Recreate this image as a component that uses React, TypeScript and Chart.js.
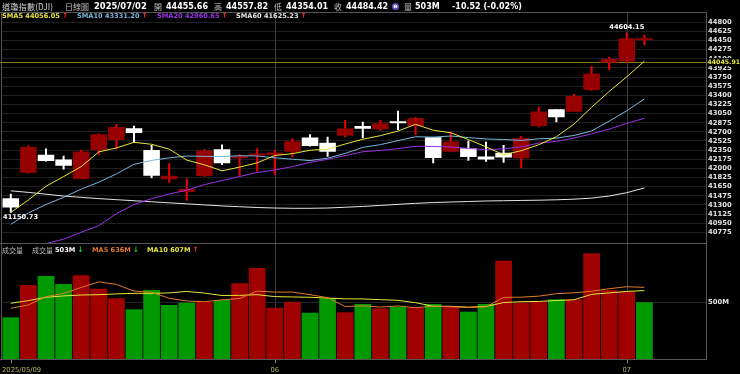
import React, { useEffect, useRef } from 'react';
import { Chart, registerables } from 'chart.js';

Chart.register(...registerables);

// ---------- data ----------
const dates = [
  '2025/05/09', '2025/05/12', '2025/05/13', '2025/05/14', '2025/05/15', '2025/05/16',
  '2025/05/19', '2025/05/20', '2025/05/21', '2025/05/22', '2025/05/23',
  '2025/05/27', '2025/05/28', '2025/05/29', '2025/05/30',
  '2025/06/02', '2025/06/03', '2025/06/04', '2025/06/05', '2025/06/06',
  '2025/06/09', '2025/06/10', '2025/06/11', '2025/06/12', '2025/06/13',
  '2025/06/16', '2025/06/17', '2025/06/18', '2025/06/20',
  '2025/06/23', '2025/06/24', '2025/06/25', '2025/06/26', '2025/06/27',
  '2025/06/30', '2025/07/01', '2025/07/02',
];
const emptySlots = ['', ' ', '  '];

const openP = [41426, 41918, 42260, 42170, 41795, 42352, 42545, 42770, 42350, 41790, 41545, 41855, 42365, 42195, 42245, 42255, 42320, 42590, 42492, 42627, 42812, 42749, 42895, 42812, 42596, 42320, 42385, 42230, 42300, 42194, 42812, 43132, 43087, 43502, 44026, 44049, 44455.66];
const highP = [41515, 42444, 42380, 42240, 42355, 42670, 42850, 42815, 42450, 42100, 41810, 42370, 42460, 42270, 42385, 42350, 42577, 42653, 42607, 42927, 42895, 42927, 43105, 42990, 42600, 42703, 42531, 42512, 42448, 42620, 43180, 43135, 43426, 43962, 44141, 44604.15, 44557.82];
const lowP = [41150.73, 41900, 42130, 41980, 41790, 42257, 42360, 42490, 41810, 41725, 41380, 41840, 42065, 41860, 41940, 41880, 42212, 42420, 42224, 42596, 42577, 42722, 42736, 42640, 42097, 42310, 42147, 42129, 42109, 42002, 42790, 42883, 43080, 43490, 43886, 44013, 44354.01];
const closeP = [41249.38, 42410.10, 42140.43, 42051.06, 42322.75, 42654.74, 42792.07, 42677.24, 41860.44, 41859.09, 41603.07, 42343.65, 42098.70, 42215.73, 42270.07, 42305.48, 42519.64, 42427.74, 42319.74, 42762.87, 42761.76, 42866.87, 42865.77, 42967.62, 42197.79, 42515.09, 42215.80, 42171.66, 42206.82, 42581.78, 43089.02, 42982.43, 43386.84, 43819.27, 44094.77, 44494.94, 44484.42];
const prevClose = 41368.45;

const sma5 = [41155.93, 41394.18, 41656.47, 41843.88, 42034.74, 42315.82, 42392.21, 42499.57, 42461.45, 42368.72, 42158.38, 42068.70, 41952.99, 42024.05, 42106.24, 42246.73, 42281.92, 42347.73, 42368.53, 42467.09, 42558.35, 42627.80, 42715.40, 42844.98, 42731.96, 42682.63, 42552.41, 42413.59, 42261.43, 42338.23, 42453.02, 42606.34, 42849.38, 43171.87, 43474.47, 43755.65, 44056.05];
const sma10 = [40927.46, 41145.71, 41306.99, 41445.16, 41602.14, 41735.87, 41893.20, 42078.02, 42152.67, 42201.73, 42237.10, 42230.45, 42226.28, 42242.75, 42237.48, 42202.55, 42175.31, 42150.36, 42196.29, 42286.67, 42402.54, 42454.86, 42531.57, 42606.76, 42599.53, 42620.49, 42590.11, 42564.50, 42553.21, 42535.10, 42567.82, 42579.38, 42631.49, 42716.65, 42906.35, 43104.33, 43331.20];
const sma20 = [40368.12, 40477.99, 40558.77, 40642.87, 40775.54, 40901.23, 41132.31, 41306.82, 41419.52, 41507.80, 41582.28, 41688.08, 41766.64, 41843.95, 41919.81, 41969.21, 42034.25, 42114.19, 42174.48, 42244.20, 42319.82, 42342.66, 42378.92, 42424.75, 42418.50, 42411.52, 42382.71, 42357.43, 42374.75, 42410.88, 42485.18, 42517.12, 42581.53, 42661.70, 42752.94, 42862.41, 42960.65];
const sma60 = [41570, 41540, 41505, 41470, 41445, 41420, 41400, 41380, 41360, 41340, 41320, 41300, 41280, 41265, 41250, 41240, 41235, 41235, 41240, 41255, 41270, 41290, 41310, 41330, 41345, 41355, 41365, 41375, 41380, 41385, 41390, 41398, 41410, 41430, 41470, 41534, 41625.23];

const volume = [370, 657, 737, 666, 743, 624, 539, 441, 613, 480, 500, 509, 524, 672, 808, 456, 509, 411, 539, 415, 488, 450, 464, 456, 488, 464, 420, 488, 873, 500, 509, 530, 530, 939, 613, 598, 503];
const volMa5 = [450, 480, 553, 583, 635, 685, 662, 603, 592, 539, 515, 509, 525, 537, 603, 594, 594, 571, 545, 466, 472, 461, 471, 455, 469, 464, 458, 463, 547, 549, 558, 580, 588, 602, 624, 642, 636];
const volMa10 = [495, 518, 548, 560, 568, 571, 578, 583, 583, 587, 600, 585, 564, 565, 571, 554, 551, 548, 541, 534, 533, 527, 521, 500, 468, 468, 460, 467, 501, 509, 511, 519, 526, 574, 587, 600, 607];

const priceTicks = [44800, 44625, 44450, 44275, 44100, 43925, 43750, 43575, 43400, 43225, 43050, 42875, 42700, 42525, 42350, 42175, 42000, 41825, 41650, 41475, 41300, 41125, 40950, 40775];
const volTicks = [500];
const markLevel = 44045.91;
const axisTickIndex = [0, 15, 35];
const axisTickText = ['2025/05/09', '06', '07'];

// ---------- styles ----------
const PRICE_MIN = 40560;
const PRICE_MAX = 44988;
const VOL_MAX = 1021;
const FONT = '"DejaVu Sans", sans-serif';
const CJK = '"Noto Sans CJK TC", sans-serif';
const C_SMA5 = '#e6e63a';
const C_SMA10 = '#78b6da';
const C_SMA20 = '#9a32e6';
const C_SMA60 = '#e4e4e4';
const C_VMA5 = '#e07a2c';
const C_VMA10 = '#e6e63a';
const UP_BODY = '#960000';
const UP_WICK = '#ee0000';
const DOWN_BODY = '#ffffff';
const VOL_UP = '#a00000';
const VOL_DOWN = '#009a00';
const ARROW_UP = '#ff2a2a';
const ARROW_DOWN = '#22cc22';

const labels = [...dates, ...emptySlots];
const last = dates.length - 1;

function txt(ctx: any, t: string, x: number, y: number, font: string, color: string, align: any = 'left') {
  ctx.font = font;
  ctx.fillStyle = color;
  ctx.textAlign = align;
  ctx.textBaseline = 'middle';
  ctx.fillText(t, x, y);
  return ctx.measureText(t).width;
}

function arrow(ctx: any, x: number, y: number, up: boolean) {
  txt(ctx, up ? '↑' : '↓', x, y, `bold 7.5px ${FONT}`, up ? ARROW_UP : ARROW_DOWN);
}

const mainDecor = {
  id: 'mainDecor',
  beforeDatasetsDraw(chart: any) {
    const { ctx, chartArea: a, scales } = chart;
    ctx.save();
    ctx.lineWidth = 1;
    ctx.strokeStyle = '#3a3a3a';
    ctx.beginPath();
    for (const i of axisTickIndex.slice(1)) {
      const px = Math.round(scales.x.getPixelForValue(i)) + 0.5;
      ctx.moveTo(px, a.top);
      ctx.lineTo(px, a.bottom);
    }
    ctx.stroke();
    const my = Math.round(scales.y.getPixelForValue(markLevel)) + 0.5;
    ctx.strokeStyle = '#7c7c1c';
    ctx.beginPath();
    ctx.moveTo(0, my);
    ctx.lineTo(a.right, my);
    ctx.stroke();
    ctx.restore();
  },
  afterDraw(chart: any) {
    const { ctx, chartArea: a, scales } = chart;
    const xs = scales.x, ys = scales.y;
    ctx.save();
    // borders
    ctx.strokeStyle = '#555';
    ctx.lineWidth = 1;
    ctx.beginPath();
    ctx.moveTo(0, a.top);
    ctx.lineTo(a.right + 0.5, a.top);
    ctx.moveTo(a.right + 0.5, a.top);
    ctx.lineTo(a.right + 0.5, chart.height);
    ctx.moveTo(1.5, a.top);
    ctx.lineTo(1.5, chart.height);
    ctx.moveTo(0, a.bottom);
    ctx.lineTo(a.right + 0.5, a.bottom);
    ctx.stroke();

    // header
    const hy = 6.5;
    const B = `bold 8px ${FONT}`;
    const K = `8px ${CJK}`;
    const G = '#bdbdbd';
    txt(ctx, '道瓊指數(DJI)', 2, hy, `8.3px ${CJK}`, '#cfcfcf');
    txt(ctx, '日線圖', 65, hy, K, G);
    txt(ctx, dates[last], 94, hy, `bold 8.4px ${FONT}`, '#ffffff');
    const pairs: [string, number][] = [
      ['開', openP[last]],
      ['高', highP[last]],
      ['低', lowP[last]],
      ['收', closeP[last]],
    ];
    let hx = 154;
    for (const [lab, val] of pairs) {
      txt(ctx, lab, hx, hy, K, G);
      const w = txt(ctx, val.toFixed(2), hx + 12, hy, B, '#ffffff');
      hx += 12 + w + 6;
    }
    ctx.fillStyle = '#5a4fc0';
    ctx.beginPath();
    ctx.arc(395.5, hy, 3.6, 0, Math.PI * 2);
    ctx.fill();
    txt(ctx, 'e', 395.5, hy, `bold 6px ${FONT}`, '#ffffff', 'center');
    txt(ctx, '量', 404, hy, K, G);
    txt(ctx, `${volume[last]}M`, 415, hy, B, '#ffffff');
    const chg = closeP[last] - closeP[last - 1];
    const pct = (chg / closeP[last - 1]) * 100;
    txt(ctx, `${chg.toFixed(2)} (${pct.toFixed(2)}%)`, 452, hy, B, '#ffffff');

    // legend
    const ly = 16.5;
    const LF = `bold 6.6px ${FONT}`;
    const items: [string, number[], number, string][] = [
      ['SMA5', sma5, 2, C_SMA5],
      ['SMA10', sma10, 77, C_SMA10],
      ['SMA20', sma20, 157, C_SMA20],
      ['SMA60', sma60, 236, C_SMA60],
    ];
    for (const [name, arr, x0, col] of items) {
      const w = txt(ctx, `${name} ${arr[last].toFixed(2)}`, x0, ly, LF, col);
      arrow(ctx, x0 + w + 2, ly, arr[last] >= arr[last - 1]);
    }

    // high / low labels
    let hi = 0, lo = 0;
    highP.forEach((v, i) => { if (v > highP[hi]) hi = i; });
    lowP.forEach((v, i) => { if (v < lowP[lo]) lo = i; });
    const VF = `bold 6.7px ${FONT}`;
    ctx.font = VF;
    const hiT = highP[hi].toFixed(2);
    const hw = ctx.measureText(hiT).width;
    let px = xs.getPixelForValue(hi) - hw / 2;
    px = Math.max(a.left + 1, Math.min(px, a.right - hw - 1));
    txt(ctx, hiT, px, ys.getPixelForValue(highP[hi]) - 5, VF, '#ffffff');
    const loT = lowP[lo].toFixed(2);
    const lw = ctx.measureText(loT).width;
    let lx = xs.getPixelForValue(lo) - lw / 2;
    lx = Math.max(a.left + 1, Math.min(lx, a.right - lw - 1));
    txt(ctx, loT, lx, ys.getPixelForValue(lowP[lo]) + 4.5, VF, '#ffffff');

    // mark level label on axis
    const my = ys.getPixelForValue(markLevel);
    ctx.fillStyle = '#000';
    ctx.fillRect(a.right + 1, my - 3.5, 740 - a.right - 1, 8);
    txt(ctx, markLevel.toFixed(2), a.right + 1.5, my + 0.5, `bold 6.2px ${FONT}`, '#e6e63a');
    ctx.restore();
  },
};

const volDecor = {
  id: 'volDecor',
  beforeDatasetsDraw(chart: any) {
    const { ctx, chartArea: a, scales } = chart;
    ctx.save();
    ctx.lineWidth = 1;
    ctx.strokeStyle = '#3a3a3a';
    ctx.beginPath();
    for (const i of axisTickIndex.slice(1)) {
      const px = Math.round(scales.x.getPixelForValue(i)) + 0.5;
      ctx.moveTo(px, a.top);
      ctx.lineTo(px, a.bottom);
    }
    ctx.stroke();
    ctx.restore();
  },
  afterDraw(chart: any) {
    const { ctx, chartArea: a, scales } = chart;
    ctx.save();
    ctx.strokeStyle = '#555';
    ctx.lineWidth = 1;
    ctx.beginPath();
    ctx.moveTo(0, a.top - 0.5);
    ctx.lineTo(a.right + 0.5, a.top - 0.5);
    ctx.moveTo(a.right + 0.5, a.top);
    ctx.lineTo(a.right + 0.5, a.bottom + 1);
    ctx.moveTo(1.5, a.top);
    ctx.lineTo(1.5, a.bottom + 1);
    ctx.moveTo(0, a.bottom + 0.5);
    ctx.lineTo(a.right + 0.5, a.bottom + 0.5);
    ctx.stroke();

    // ticks + labels
    ctx.strokeStyle = '#888';
    ctx.beginPath();
    axisTickIndex.forEach((i) => {
      const px = Math.round(scales.x.getPixelForValue(i)) + 0.5;
      ctx.moveTo(px, a.bottom + 1);
      ctx.lineTo(px, a.bottom + 4);
    });
    ctx.stroke();
    const AF = `6.8px ${FONT}`;
    axisTickIndex.forEach((i, k) => {
      const px = scales.x.getPixelForValue(i);
      ctx.font = AF;
      const w = ctx.measureText(axisTickText[k]).width;
      const x0 = Math.max(a.left, px - w / 2);
      txt(ctx, axisTickText[k], x0, a.bottom + 11, AF, '#b8b860');
    });

    // legend
    const ly = a.top + 6;
    const K = `7px ${CJK}`;
    const LF = `bold 6.6px ${FONT}`;
    txt(ctx, '成交量', 2, ly, K, '#bdbdbd');
    txt(ctx, '成交量', 32, ly, K, '#bdbdbd');
    let w = txt(ctx, `${volume[last]}M`, 55, ly, LF, '#ffffff');
    arrow(ctx, 55 + w + 2, ly, volume[last] >= volume[last - 1]);
    w = txt(ctx, `MA5 ${volMa5[last]}M`, 92, ly, LF, C_VMA5);
    arrow(ctx, 92 + w + 2, ly, volMa5[last] >= volMa5[last - 1]);
    w = txt(ctx, `MA10 ${volMa10[last]}M`, 147, ly, LF, C_VMA10);
    arrow(ctx, 147 + w + 2, ly, volMa10[last] >= volMa10[last - 1]);
    ctx.restore();
  },
};

const lineDs = (data: number[], color: string, order: number) => ({
  type: 'line' as const,
  data,
  borderColor: color,
  borderWidth: 1,
  pointRadius: 0,
  tension: 0,
  order,
});

export default function App() {
  const mainRef = useRef<HTMLCanvasElement>(null);
  const volRef = useRef<HTMLCanvasElement>(null);

  useEffect(() => {
    const isUp = closeP.map((c, i) => c > openP[i]);
    const bodies = openP.map((o, i) => [o, closeP[i]]);
    const wicks = lowP.map((l, i) => [l, highP[i]]);
    const volColors = closeP.map((c, i) => (c >= (i === 0 ? prevClose : closeP[i - 1]) ? VOL_UP : VOL_DOWN));

    const axisFont = { family: 'DejaVu Sans', size: 6.8, weight: 'bold' as const };

    const c1 = new Chart(mainRef.current!, {
      type: 'bar',
      data: {
        labels,
        datasets: [
          lineDs(sma5, C_SMA5, 0),
          lineDs(sma10, C_SMA10, 1),
          lineDs(sma20, C_SMA20, 2),
          lineDs(sma60, C_SMA60, 3),
          {
            type: 'bar',
            data: bodies as any,
            backgroundColor: isUp.map((u) => (u ? UP_BODY : DOWN_BODY)),
            barPercentage: 0.94,
            categoryPercentage: 1,
            grouped: false,
            minBarLength: 2,
            order: 5,
          } as any,
          {
            type: 'bar',
            data: wicks as any,
            backgroundColor: isUp.map((u) => (u ? UP_WICK : DOWN_BODY)),
            barPercentage: 0.115,
            categoryPercentage: 1,
            grouped: false,
            order: 6,
          } as any,
        ],
      },
      options: {
        animation: false,
        responsive: false,
        maintainAspectRatio: false,
        layout: { padding: { left: 2, right: 0, top: 12.5, bottom: 6.5 } },
        plugins: { legend: { display: false }, tooltip: { enabled: false } },
        scales: {
          x: { type: 'category', display: false, offset: true },
          y: {
            position: 'right',
            min: PRICE_MIN,
            max: PRICE_MAX,
            afterBuildTicks: (s: any) => { s.ticks = priceTicks.map((v) => ({ value: v })); },
            afterFit: (s: any) => { s.width = 34; },
            grid: { color: '#1f1f1f', drawTicks: false },
            border: { display: false },
            ticks: { color: '#e4e4e4', padding: 2, autoSkip: false, font: axisFont, callback: (v: any) => String(v) },
          },
        },
      },
      plugins: [mainDecor],
    } as any);

    const c2 = new Chart(volRef.current!, {
      type: 'bar',
      data: {
        labels,
        datasets: [
          lineDs(volMa5, C_VMA5, 0),
          lineDs(volMa10, C_VMA10, 1),
          {
            type: 'bar',
            data: volume,
            backgroundColor: volColors,
            barPercentage: 0.95,
            categoryPercentage: 1,
            order: 5,
          } as any,
        ],
      },
      options: {
        animation: false,
        responsive: false,
        maintainAspectRatio: false,
        layout: { padding: { left: 2, right: 0, top: 8, bottom: 15 } },
        plugins: { legend: { display: false }, tooltip: { enabled: false } },
        scales: {
          x: { type: 'category', display: false, offset: true },
          y: {
            position: 'right',
            min: 0,
            max: VOL_MAX,
            afterBuildTicks: (s: any) => { s.ticks = volTicks.map((v) => ({ value: v })); },
            afterFit: (s: any) => { s.width = 34; },
            grid: { color: '#262626', drawTicks: false },
            border: { display: false },
            ticks: { color: '#e4e4e4', padding: 2, autoSkip: false, font: axisFont, callback: (v: any) => `${v}M` },
          },
        },
      },
      plugins: [volDecor],
    } as any);

    return () => {
      c1.destroy();
      c2.destroy();
    };
  }, []);

  return (
    <div style={{ position: 'fixed', left: 0, top: 0, width: 740, height: 374, background: '#000', overflow: 'hidden' }}>
      <canvas ref={volRef} width={740} height={138} style={{ position: 'absolute', left: 0, top: 236, width: 740, height: 138, display: 'block' }} />
      <canvas ref={mainRef} width={740} height={250} style={{ position: 'absolute', left: 0, top: 0, width: 740, height: 250, display: 'block' }} />
    </div>
  );
}
